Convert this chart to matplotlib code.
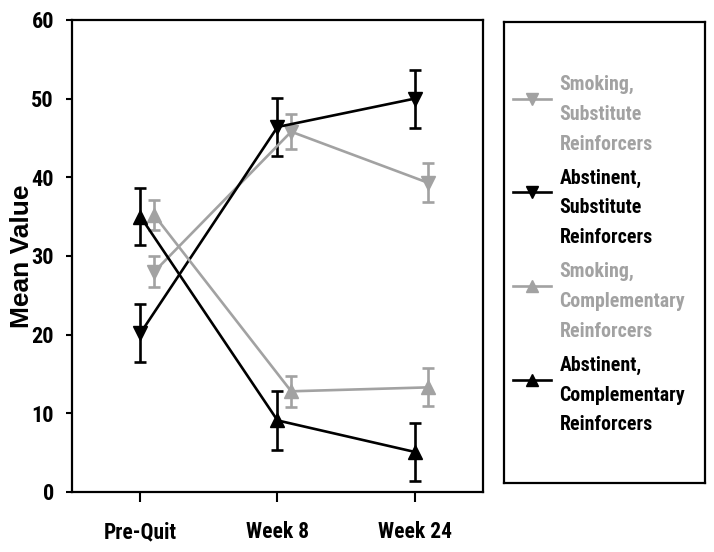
import matplotlib
matplotlib.use("Agg")
import matplotlib.pyplot as plt
import numpy as np
from matplotlib import font_manager as fm
from matplotlib.legend_handler import HandlerLine2D

# ---- pick a condensed bold sans (Arial Narrow look-alike) ----
prefs = ["Liberation Sans Narrow", "Arial Narrow", "Roboto Condensed", "PT Sans Narrow",
         "Fira Sans Condensed", "IBM Plex Sans Condensed", "Open Sans Condensed",
         "Encode Sans Condensed", "Barlow Condensed", "Asap Condensed", "Archivo Narrow"]
bold_names = {f.name for f in fm.fontManager.ttflist
              if isinstance(f.weight, int) and f.weight >= 600 or f.weight == "bold"}
all_names = {f.name for f in fm.fontManager.ttflist}
narrow = next((n for n in prefs if n in bold_names), None) or \
    next((n for n in prefs if n in all_names), "Liberation Sans")
NARROW = [narrow, "Liberation Sans", "DejaVu Sans"]

# ---- data ----
categories = ["Pre-Quit", "Week 8", "Week 24"]
series_labels = ["Smoking,\nSubstitute\nReinforcers",
                 "Abstinent,\nSubstitute\nReinforcers",
                 "Smoking,\nComplementary\nReinforcers",
                 "Abstinent,\nComplementary\nReinforcers"]
smoking_sub = [28.0, 45.8, 39.3]
smoking_sub_err = [2.0, 2.2, 2.5]
abstinent_sub = [20.2, 46.4, 50.0]
abstinent_sub_err = [3.7, 3.7, 3.7]
smoking_comp = [35.2, 12.8, 13.3]
smoking_comp_err = [1.9, 2.0, 2.4]
abstinent_comp = [35.0, 9.1, 5.1]
abstinent_comp_err = [3.6, 3.7, 3.7]
y_ticks = [0, 10, 20, 30, 40, 50, 60]

gray = "#a2a2a2"
black = "#000000"
series = [
    (smoking_sub, smoking_sub_err, gray, "v", 0.1),
    (abstinent_sub, abstinent_sub_err, black, "v", 0.0),
    (smoking_comp, smoking_comp_err, gray, "^", 0.1),
    (abstinent_comp, abstinent_comp_err, black, "^", 0.0),
]

fig = plt.figure(figsize=(7.14, 5.52), dpi=100)
ax = fig.add_axes([0.1008, 0.1087, 0.5757, 0.8551])
x = np.arange(len(categories))
handles = []
for (vals, errs, col, mk, off), lab in zip(series, series_labels):
    eb = ax.errorbar(x + off, vals, yerr=errs, color=col, marker=mk, markersize=10,
                     linewidth=1.9, elinewidth=1.9, capsize=4, capthick=1.9,
                     markeredgecolor=col, markerfacecolor=col, label=lab)
    handles.append(eb[0])

ax.set_xlim(-0.5, 2.5)
ax.set_ylim(0, 60)
ax.set_xticks(x)
ax.set_xticklabels(categories, family=NARROW, fontweight="bold", fontsize=15.5)
ax.set_yticks(y_ticks)
ax.set_yticklabels([str(v) for v in y_ticks], family=NARROW,
                   fontweight="bold", fontsize=16)
ax.tick_params(axis="x", length=7, width=1.5, pad=14)
ax.tick_params(axis="y", length=4, width=1.5, pad=9)
for sp in ax.spines.values():
    sp.set_linewidth(1.6)
ax.set_ylabel("Mean Value", family=["Liberation Sans", "DejaVu Sans"], fontweight="bold",
              fontsize=19)
ax.yaxis.set_label_coords(-0.093, 0.5)

# ---- legend box ----
lax = fig.add_axes([0.7059, 0.125, 0.2815, 0.835])
lax.set_xticks([])
lax.set_yticks([])
for sp in lax.spines.values():
    sp.set_linewidth(1.6)

LEG_FS = 14.3
LEG_LS = 1.72


class FirstLineHandler(HandlerLine2D):
    def __init__(self, shift, **kw):
        super().__init__(**kw)
        self.shift = shift

    def create_artists(self, legend, orig_handle, xdescent, ydescent, width, height,
                       fontsize, trans):
        return super().create_artists(legend, orig_handle, xdescent,
                                      ydescent - self.shift, width, height,
                                      fontsize, trans)


hmap = {h: FirstLineHandler(LEG_FS * LEG_LS * 0.935) for h in handles}
leg = lax.legend(handles=handles, labels=series_labels, loc="upper left",
                 bbox_to_anchor=(0.0, 0.905), frameon=False,
                 prop={"family": NARROW, "weight": "bold", "size": LEG_FS},
                 handlelength=1.9, handletextpad=0.45, labelspacing=0.75,
                 borderaxespad=0.05, handler_map=hmap)
for t, (vals, errs, col, mk, off) in zip(leg.get_texts(), series):
    t.set_color(col)
    t.set_linespacing(LEG_LS)
for h in leg.legend_handles:
    h.set_markersize(8)

fig.savefig("out.png", dpi=100)
